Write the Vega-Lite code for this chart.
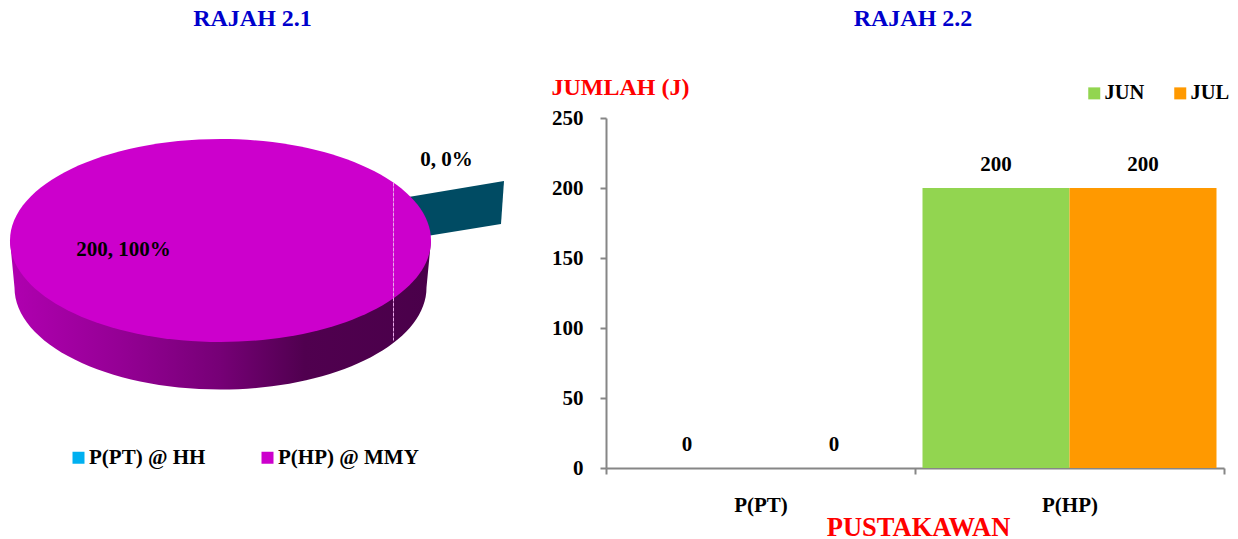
{
  "$schema": "https://vega.github.io/schema/vega-lite/v6.json",
  "padding": {"left": 0, "top": 7, "right": 0, "bottom": 0},
  "background": "white",
  "spacing": 47,
  "datasets": {
    "share": [
      {"slice": "P(PT) @ HH", "value": 0, "label": "0, 0%"},
      {"slice": "P(HP) @ MMY", "value": 200, "label": "200, 100%"}
    ],
    "monthly": [
      {"staff": "P(PT)", "month": "JUN", "count": 0},
      {"staff": "P(PT)", "month": "JUL", "count": 0},
      {"staff": "P(HP)", "month": "JUN", "count": 200},
      {"staff": "P(HP)", "month": "JUL", "count": 200}
    ]
  },
  "config": {
    "view": {"stroke": null},
    "font": "Liberation Serif",
    "title": {"font": "Liberation Serif", "fontWeight": "bold", "fontSize": 24, "color": "#0000cc"}
  },
  "resolve": {"scale": {"color": "independent"}, "legend": {"color": "independent"}},
  "hconcat": [
    {
      "width": 441,
      "height": 245,
      "title": {"text": "RAJAH 2.1", "anchor": "middle", "frame": "group", "dx": 32, "offset": 87},
      "data": {"name": "share"},
      "layer": [
        {
          "description": "Exploded zero slice, behind the disc",
          "transform": [{"filter": "datum.value === 0"}],
          "mark": {
            "type": "point", "filled": true, "size": 4, "opacity": 1,
            "fill": "#004b63",
            "shape": "M185,-43 L283.5,-59.5 L280.5,-16.5 L185,-1 Z"
          }
        },
        {
          "description": "Rim of the disc",
          "transform": [{"filter": "datum.value > 0"}],
          "mark": {
            "type": "point", "filled": true, "size": 4, "opacity": 1,
            "shape": "M-210.5,0 L-206,47 A206,102 0 0 0 206,47 L210.5,0 Z",
            "fill": {
              "gradient": "linear", "x1": 0, "x2": 1, "y1": 0, "y2": 0,
              "stops": [
                {"offset": 0, "color": "#b000b0"},
                {"offset": 0.25, "color": "#960096"},
                {"offset": 0.5, "color": "#760076"},
                {"offset": 0.7, "color": "#50004f"},
                {"offset": 1, "color": "#4a004a"}
              ]
            }
          }
        },
        {
          "description": "Top face of the disc",
          "transform": [{"filter": "datum.value > 0"}],
          "mark": {
            "type": "point", "filled": true, "size": 4, "opacity": 1,
            "shape": "M-210.5,0 A210.5,101.5 0 1 1 210.5,0 A210.5,101.5 0 1 1 -210.5,0 Z"
          },
          "encoding": {
            "color": {
              "field": "slice", "type": "nominal",
              "scale": {"domain": ["P(PT) @ HH", "P(HP) @ MMY"], "range": ["#00b0f0", "#cc00cc"]},
              "legend": {
                "title": null, "orient": "none", "legendX": 68, "legendY": 329,
                "direction": "horizontal", "columns": 2, "symbolType": "square", "symbolSize": 144,
                "symbolStrokeWidth": 0, "columnPadding": 51, "labelFont": "Liberation Serif",
                "labelFontSize": 21, "labelFontWeight": "bold", "labelColor": "#000000", "labelOffset": 0
              }
            }
          }
        },
        {
          "description": "Seam where the zero slice meets the disc",
          "transform": [{"filter": "datum.value > 0"}],
          "mark": {
            "type": "point", "filled": false, "size": 4, "opacity": 1,
            "stroke": "#e9a8e9", "strokeWidth": 1, "strokeDash": [4, 1],
            "shape": "M173,-58 L173,100"
          }
        },
        {
          "transform": [{"filter": "datum.value > 0"}],
          "mark": {"type": "text", "font": "Liberation Serif", "fontWeight": "bold", "fontSize": 21, "dx": -97, "dy": 9, "color": "#000000"},
          "encoding": {"text": {"field": "label"}}
        },
        {
          "transform": [{"filter": "datum.value === 0"}],
          "mark": {"type": "text", "font": "Liberation Serif", "fontWeight": "bold", "fontSize": 21, "dx": 226, "dy": -81, "color": "#000000"},
          "encoding": {"text": {"field": "label"}}
        }
      ]
    },
    {
      "width": 618,
      "height": 350,
      "title": {"text": "RAJAH 2.2", "anchor": "middle", "frame": "group", "dx": -2, "offset": 44},
      "data": {"name": "monthly"},
      "encoding": {
        "x": {
          "field": "staff", "type": "nominal", "sort": ["P(PT)", "P(HP)"],
          "scale": {"paddingInner": 0, "paddingOuter": 0},
          "axis": {
            "title": "PUSTAKAWAN", "titleColor": "#ff0000", "titleFont": "Liberation Serif", "titleFontSize": 26.5,
            "titleFontWeight": "bold", "titleX": 312, "titleY": 59, "titleBaseline": "middle", "titleAnchor": null,
            "labelAngle": 0, "labelPadding": 20, "labelFont": "Liberation Serif", "labelFontSize": 21,
            "labelFontWeight": "bold", "labelColor": "#000000", "domainColor": "#868686", "domainWidth": 2,
            "tickColor": "#868686", "tickWidth": 2, "tickSize": 6, "tickBand": "extent", "grid": false
          }
        },
        "xOffset": {"field": "month", "type": "nominal", "sort": ["JUN", "JUL"], "scale": {"paddingOuter": 0.051, "paddingInner": 0}},
        "y": {
          "field": "count", "type": "quantitative",
          "scale": {"domain": [0, 250], "nice": false},
          "axis": {
            "title": "JUMLAH (J)", "titleColor": "#ff0000", "titleFont": "Liberation Serif", "titleFontSize": 24,
            "titleFontWeight": "bold", "titleAngle": 0, "titleAlign": "left", "titleBaseline": "middle",
            "titleX": -55, "titleY": -31, "values": [0, 50, 100, 150, 200, 250],
            "labelPadding": 17, "labelFont": "Liberation Serif", "labelFontSize": 21, "labelFontWeight": "bold",
            "labelColor": "#000000", "domainColor": "#868686", "domainWidth": 2,
            "tickColor": "#868686", "tickWidth": 2, "tickSize": 6, "grid": false
          }
        }
      },
      "layer": [
        {
          "mark": {"type": "bar", "opacity": 1},
          "encoding": {
            "color": {
              "field": "month", "type": "nominal",
              "scale": {"domain": ["JUN", "JUL"], "range": ["#92d550", "#ff9900"]},
              "legend": {
                "title": null, "orient": "none", "legendX": 478, "legendY": -35,
                "direction": "horizontal", "columns": 2, "symbolType": "square", "symbolSize": 144,
                "symbolStrokeWidth": 0, "columnPadding": 25, "labelFont": "Liberation Serif",
                "labelFontSize": 20.5, "labelFontWeight": "bold", "labelColor": "#000000", "labelOffset": 0
              }
            }
          }
        },
        {
          "mark": {"type": "text", "font": "Liberation Serif", "fontWeight": "bold", "fontSize": 21, "dy": -23, "baseline": "middle", "color": "#000000"},
          "encoding": {"text": {"field": "count", "type": "quantitative"}}
        }
      ]
    }
  ]
}
